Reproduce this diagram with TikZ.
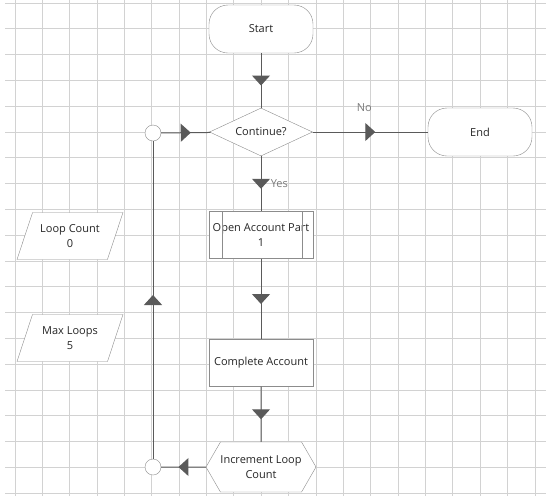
\documentclass[tikz,border=0pt]{standalone}
\usepackage{fontspec}
\setmainfont{Open Sans}
\usetikzlibrary{shapes.geometric,shapes.misc,shapes.symbols,arrows.meta,decorations.markings}
\definecolor{gridgray}{HTML}{D2D2D2}
\definecolor{shapegray}{HTML}{8C8C8C}
\definecolor{linegray}{HTML}{5A5A5A}
\definecolor{labelgray}{HTML}{7A7A7A}
\definecolor{textgray}{HTML}{262626}

\begin{document}
\begin{tikzpicture}[x=1pt, y=-1pt,
  every node/.style={text=textgray, font=\fontsize{11}{14.5}\selectfont},
  gridline/.style={gridgray, line width=1pt},
  terminal/.style={rectangle, rounded corners=19pt, draw=shapegray, fill=white, minimum width=104pt, minimum height=48pt},
  decision/.style={diamond, aspect=2.15, draw=shapegray, fill=white, inner sep=0pt, minimum width=103pt, minimum height=48pt},
  process/.style={rectangle, draw=shapegray, fill=white, inner sep=0pt, minimum width=104pt, minimum height=47pt, align=center},
  prep/.style={signal, signal to=west and east, signal pointer angle=120, draw=shapegray, fill=white, minimum width=104pt, minimum height=50pt, inner sep=0pt, align=center},
  datain/.style={trapezium, trapezium left angle=62, trapezium right angle=118, trapezium stretches body, draw=shapegray, fill=white, minimum width=106pt, minimum height=47pt, align=center},
  junction/.style={circle, draw=shapegray, fill=white, minimum size=16pt, inner sep=0pt},
  flow/.style={draw=linegray, line width=1pt, postaction={decorate},
    decoration={markings, mark=at position 0.5 with {\arrow[xshift=5pt]{Triangle[length=10pt,width=18pt]}}}},
  note/.style={text=labelgray}
]
  \useasboundingbox (0,0) rectangle (553,496);
  \fill[white] (0,0) rectangle (553,496);
  % grid
  \foreach \i in {0,...,19} {
    \draw[gridline] ({15+27.37*\i},0) -- ({15+27.37*\i},496);
    \draw[gridline] (5,{3+25.8*\i}) -- (546,{3+25.8*\i});
  }

  \node[terminal] (start) at (261,29) {Start};
  \node[decision] (cont) at (261,132) {Continue?};
  \node[terminal] (finish) at (480,132) {End};
  \node[process] (open) at (261,235) {Open Account Part\\1};
  \draw[shapegray] ([xshift=13pt]open.north west) -- ([xshift=13pt]open.south west);
  \draw[shapegray] ([xshift=-11pt]open.north east) -- ([xshift=-11pt]open.south east);
  \node[process] (complete) at (261,363) {Complete Account};
  \node[prep] (incr) at (261,467) {Increment Loop\\Count};
  \node[junction] (jtop) at (153,133) {};
  \node[junction] (jbot) at (153,467) {};
  \node[datain] (loopcount) at (70,236) {Loop Count\\0};
  \node[datain] (maxloops) at (70,338) {Max Loops\\5};

  \draw[flow] (start) -- (cont);
  \draw[flow] (cont) -- node[note, pos=0.5, anchor=west, xshift=6pt] {Yes} (open);
  \draw[flow] (cont) -- node[note, pos=0.5, above, xshift=-6pt, yshift=17pt] {No} (finish);
  \draw[flow] (open) -- (complete);
  \draw[flow] (complete) -- (incr);
  \draw[flow] (incr) -- (jbot);
  \draw[flow] (jbot) -- (jtop);
  \draw[flow] (jtop) -- (cont);
\end{tikzpicture}
\end{document}
